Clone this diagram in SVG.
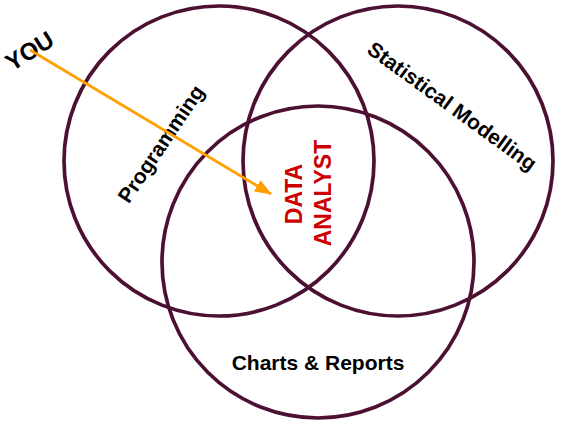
<svg xmlns="http://www.w3.org/2000/svg" width="561" height="432" viewBox="0 0 561 432">
<defs>
<style>
.c{fill:none;stroke:#4c1132;stroke-width:3.7}
.t{font-family:"Liberation Sans",Arial,sans-serif;font-weight:bold;fill:#000;text-anchor:middle}
.da{font-family:"Liberation Sans",Arial,sans-serif;font-weight:bold;fill:#cc0000;text-anchor:middle;font-size:23px}
.ar{stroke:#ffa000;stroke-width:2.8;fill:none}
</style>
<marker id="ah" markerWidth="17" markerHeight="13" refX="16" refY="6.5" orient="auto" markerUnits="userSpaceOnUse">
<path d="M0,0 L17,6.5 L0,13 Z" fill="#ffa000"/>
</marker>
</defs>
<rect width="561" height="432" fill="#fff"/>
<g id="programming">
<circle class="c" cx="219" cy="161" r="155"/>
<text class="t" font-size="21" transform="translate(167,148) rotate(-56)">Programming</text>
</g>
<g id="statistical-modelling">
<circle class="c" cx="398" cy="161" r="155"/>
<text class="t" font-size="21" transform="translate(448,112) rotate(36)">Statistical Modelling</text>
</g>
<g id="charts-reports">
<circle class="c" cx="318" cy="262" r="156"/>
<text class="t" font-size="21" x="318" y="370">Charts &amp; Reports</text>
</g>
<g id="data-analyst">
<text class="da" transform="translate(302,194) rotate(-90)">DATA</text>
<text class="da" transform="translate(331,193) rotate(-90)">ANALYST</text>
</g>
<g id="you">
<text class="t" font-size="24" transform="translate(34,58) rotate(-32)">YOU</text>
</g>
<g id="connectors">
<line class="ar" x1="30" y1="50" x2="271" y2="194" marker-end="url(#ah)"/>
</g>
</svg>
